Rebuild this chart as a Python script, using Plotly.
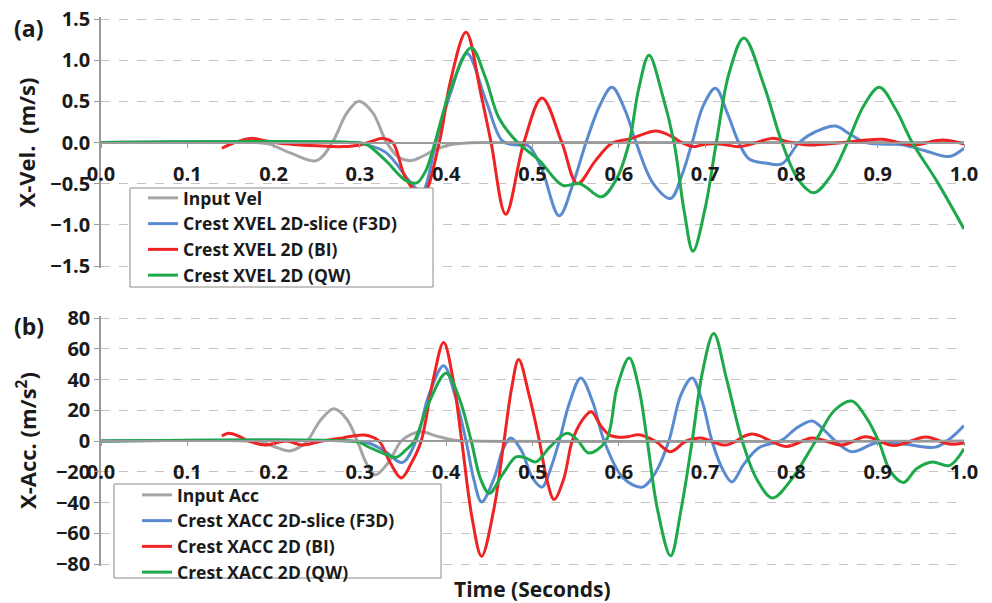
import plotly.graph_objects as go

# ---------------- data ----------------
# (a) velocity panel
t_vel_input = [0, 0.18, 0.195, 0.22, 0.25, 0.268, 0.285, 0.299, 0.315, 0.331, 0.345, 0.36, 0.372, 0.385, 0.4, 0.42, 0.45, 1.0]
vel_input = [0, 0, -0.02, -0.13, -0.22, 0, 0.36, 0.50, 0.36, 0, -0.18, -0.22, -0.17, -0.1, -0.04, -0.01, 0, 0]

t_vel_f3d = [0, 0.29, 0.305, 0.33, 0.36, 0.372, 0.388, 0.405, 0.424, 0.446, 0.465, 0.48, 0.495, 0.51, 0.531, 0.547, 0.562,
             0.578, 0.592, 0.607, 0.62, 0.64, 0.660, 0.673, 0.685, 0.698, 0.712, 0.726, 0.739, 0.751, 0.77, 0.789, 0.809,
             0.83, 0.851, 0.868, 0.886, 0.91, 0.93, 0.955, 0.983, 1.0]
vel_f3d = [0, 0, -0.02, -0.12, -0.5, -0.6, 0, 0.6, 1.08, 0.51, 0.02, -0.03, -0.04, -0.3, -0.89, -0.5, 0,
           0.45, 0.67, 0.4, 0, -0.5, -0.68, -0.4, 0, 0.45, 0.66, 0.35, 0, -0.2, -0.25, -0.26, 0,
           0.14, 0.2, 0.1, 0, -0.02, -0.03, -0.1, -0.17, -0.07]

t_vel_bi = [0.14, 0.155, 0.174, 0.19, 0.2, 0.22, 0.25, 0.28, 0.3, 0.315, 0.326, 0.338, 0.353, 0.372, 0.392, 0.405, 0.423,
            0.44, 0.452, 0.469, 0.49, 0.511, 0.534, 0.552, 0.573, 0.592, 0.615, 0.643, 0.66, 0.673, 0.687, 0.7, 0.72,
            0.739, 0.76, 0.777, 0.8, 0.82, 0.86, 0.905, 0.94, 0.975, 1.0]
vel_bi = [-0.07, 0.0, 0.05, 0.02, 0.0, -0.02, -0.04, -0.05, -0.03, 0.02, 0.05, 0.0, -0.43, -0.65, 0, 0.75, 1.34,
          0.6, 0, -0.87, 0, 0.54, 0, -0.50, -0.22, -0.01, 0.05, 0.14, 0.08, 0, -0.05, -0.02, -0.02,
          -0.05, 0.0, 0.05, 0.0, -0.03, 0.0, 0.04, -0.03, 0.03, -0.02]

t_vel_qw = [0, 0.295, 0.307, 0.33, 0.353, 0.366, 0.376, 0.387, 0.405, 0.429, 0.445, 0.461, 0.481, 0.508, 0.535, 0.555,
            0.58, 0.597, 0.612, 0.623, 0.635, 0.65, 0.664, 0.676, 0.686, 0.7, 0.713, 0.728, 0.745, 0.768, 0.789, 0.808,
            0.826, 0.846, 0.865, 0.884, 0.902, 0.921, 0.94, 0.968, 1.0]
vel_qw = [0, 0, -0.02, -0.22, -0.46, -0.49, -0.35, 0, 0.65, 1.15, 0.8, 0.3, 0.02, -0.22, -0.52, -0.5,
          -0.66, -0.45, 0, 0.65, 1.06, 0.6, 0, -0.85, -1.32, -0.8, 0, 0.85, 1.27, 0.7, 0, -0.45,
          -0.61, -0.4, 0, 0.45, 0.67, 0.4, 0, -0.46, -1.05]

# (b) acceleration panel
t_acc_input = [0, 0.17, 0.19, 0.205, 0.218, 0.23, 0.239, 0.255, 0.27, 0.285, 0.297, 0.308, 0.318, 0.333, 0.348, 0.36,
               0.372, 0.39, 0.41, 0.43, 1.0]
acc_input = [0, 0, -1.5, -4.5, -6.5, -4, 0, 14, 21, 14, 0, -15, -22, -14, 0, 4.5, 6, 3, 0.5, 0, 0]

t_acc_f3d = [0, 0.29, 0.31, 0.33, 0.349, 0.365, 0.38, 0.397, 0.41, 0.423, 0.432, 0.441, 0.455, 0.466, 0.475, 0.487,
             0.5, 0.511, 0.521, 0.531, 0.543, 0.556, 0.57, 0.583, 0.605, 0.627, 0.643, 0.658, 0.672, 0.685, 0.697,
             0.708, 0.72, 0.731, 0.745, 0.762, 0.789, 0.805, 0.824, 0.84, 0.852, 0.87, 0.898, 0.93, 0.967, 0.985, 1.0]
acc_f3d = [0, 0, -1.3, -7, -14, 0, 30, 49, 30, 0, -25, -39.6, -25, -5, 2, -6,
           -24, -30, -18, 0, 25, 41, 25, 0, -24, -30, -20, 0, 30, 41, 25,
           0, -18, -26.6, -15, -4.5, 0.6, 8, 13, 6, -0.6, -7, -1.3, -2, -4, 2, 10]

t_acc_bi = [0.14, 0.148, 0.16, 0.171, 0.19, 0.215, 0.233, 0.256, 0.28, 0.305, 0.322, 0.335, 0.348, 0.36, 0.371,
            0.385, 0.397, 0.408, 0.418, 0.43, 0.441, 0.455, 0.467, 0.476, 0.484, 0.496, 0.508, 0.517, 0.525, 0.536,
            0.546, 0.557, 0.568, 0.579, 0.589, 0.6, 0.612, 0.623, 0.642, 0.66, 0.678, 0.695, 0.724, 0.754, 0.794,
            0.824, 0.859, 0.886, 0.919, 0.956, 0.983, 1.0]
acc_bi = [3.2, 5, 3, 0, -2.6, 0, -2.6, 0, 2, 3.9, 0, -14, -24, -14, 0,
          40, 64, 40, 0, -50, -75, -45, 0, 35, 53, 30, 0, -26, -38, -25,
          0, 13, 19, 10, 4, 2.5, 3, 4, 0, -7, 0, 2, -2.6, 4.5, -3.5,
          2, -2.6, 2.7, -3, 2.6, -2, -1.3]

t_acc_qw = [0, 0.287, 0.3, 0.31, 0.325, 0.342, 0.353, 0.363, 0.38, 0.4, 0.415, 0.429, 0.44, 0.45, 0.465, 0.481,
            0.492, 0.504, 0.52, 0.54, 0.553, 0.565, 0.585, 0.598, 0.612, 0.623, 0.633, 0.645, 0.66, 0.672, 0.685,
            0.697, 0.71, 0.725, 0.743, 0.76, 0.778, 0.8, 0.828, 0.85, 0.87, 0.887, 0.901, 0.915, 0.93, 0.945,
            0.963, 0.983, 1.0]
acc_qw = [0, 0, -1, -3.9, -7.5, -10.6, -6, 0, 25, 44, 28, 0, -25, -34, -22, -10.4,
          -11, -13.6, -4, 5, 0, -7.8, 0, 35, 54, 35, 0, -45, -74.7, -45, 0,
          45, 70, 40, 0, -25, -37, -25, 0, 20, 26, 15, 0, -20, -27, -18,
          -13.6, -16, -5]

vel_ticks = [-1.5, -1.0, -0.5, 0.0, 0.5, 1.0, 1.5]
acc_ticks = [-80, -60, -40, -20, 0, 20, 40, 60, 80]
time_ticks = [0.0, 0.1, 0.2, 0.3, 0.4, 0.5, 0.6, 0.7, 0.8, 0.9, 1.0]

vel_names = ["Input Vel", "Crest XVEL 2D-slice (F3D)", "Crest XVEL 2D (BI)", "Crest XVEL 2D (QW)"]
acc_names = ["Input Acc", "Crest XACC 2D-slice (F3D)", "Crest XACC 2D (BI)", "Crest XACC 2D (QW)"]

# ---------------- styling ----------------
# The page body has an 8px margin, so the figure is drawn at (8, 8) in the window.
OFF = 8
W, H = 992 - OFF, 603 - OFF


def px(x):
    return (x - OFF) / W


def py(y):
    return 1 - (y - OFF) / H


FONT = "'Open Sans', Lato, sans-serif"
colors = ["#A5A5A5", "#5A8AD0", "#EE2323", "#1DA84A"]
widths = [3, 3, 3, 3]

# plot areas padded by 2px so the end gridlines are drawn
PAD = 2
x_dom = [px(101), px(964)]
y1_dom = [py(266 + PAD), py(19 - PAD)]
y2_dom = [py(564 + PAD), py(318 - PAD)]
k1 = 3.0 / (266 - 19)
k2 = 160.0 / (564 - 318)
y1_rng = [vel_ticks[0] - PAD * k1, vel_ticks[-1] + PAD * k1]
y2_rng = [acc_ticks[0] - PAD * k2, acc_ticks[-1] + PAD * k2]

fig = go.Figure()

vel_series = [(t_vel_input, vel_input), (t_vel_f3d, vel_f3d), (t_vel_bi, vel_bi), (t_vel_qw, vel_qw)]
acc_series = [(t_acc_input, acc_input), (t_acc_f3d, acc_f3d), (t_acc_bi, acc_bi), (t_acc_qw, acc_qw)]

for i, ((tx, vy), name) in enumerate(zip(vel_series, vel_names)):
    fig.add_trace(go.Scatter(x=tx, y=vy, name=name, mode="lines",
                             line=dict(color=colors[i], width=widths[i], shape="spline", smoothing=1.0),
                             xaxis="x", yaxis="y", legend="legend"))
for i, ((tx, vy), name) in enumerate(zip(acc_series, acc_names)):
    fig.add_trace(go.Scatter(x=tx, y=vy, name=name, mode="lines",
                             line=dict(color=colors[i], width=widths[i], shape="spline", smoothing=1.0),
                             xaxis="x2", yaxis="y2", legend="legend2"))

tick_font = dict(family=FONT, size=20, color="#1a1a1a", weight="bold")

xcommon = dict(range=[0, 1], tickvals=time_ticks, tickformat=".1f", showgrid=False, zeroline=False,
               showline=True, linecolor="#9a9a9a", linewidth=2, ticks="outside", ticklen=4,
               tickcolor="#9a9a9a", tickfont=tick_font, ticklabelstandoff=9, anchor="free",
               automargin=False, ticklabeloverflow="allow")
ycommon = dict(showgrid=True, gridcolor="#c4c4c4", griddash="dash", gridwidth=1, zeroline=False,
               showline=True, linecolor="#9a9a9a", linewidth=1.5, ticks="outside", ticklen=5,
               tickcolor="#9a9a9a", tickfont=tick_font, automargin=False, ticklabeloverflow="allow")

legend_common = dict(bgcolor="rgba(0,0,0,0)", borderwidth=0,
                     font=dict(family=FONT, size=17.5, color="#1a1a1a", weight="bold"),
                     xanchor="left", yanchor="top", tracegroupgap=0, itemwidth=30)

fig.update_layout(
    width=W, height=H, autosize=False,
    margin=dict(l=0, r=0, t=0, b=0, autoexpand=False),
    paper_bgcolor="white", plot_bgcolor="white",
    xaxis=dict(domain=x_dom, position=(y1_dom[0] + y1_dom[1]) / 2, **xcommon),
    xaxis2=dict(domain=x_dom, position=(y2_dom[0] + y2_dom[1]) / 2, **xcommon),
    yaxis=dict(domain=y1_dom, range=y1_rng, tickvals=vel_ticks, tickformat=".1f", anchor="x", **ycommon),
    yaxis2=dict(domain=y2_dom, range=y2_rng, tickvals=acc_ticks, tickformat="d", anchor="x2", **ycommon),
    legend=dict(x=px(143), y=py(180), **legend_common),
    legend2=dict(x=px(137), y=py(477), **legend_common),
    showlegend=True,
)

# legend frames (white boxes that hide the curves behind the legends)
for (x0, y0, x1, y1) in [(130, 188, 433, 287), (114, 484, 441, 578)]:
    fig.add_shape(type="rect", xref="paper", yref="paper", x0=px(x0), x1=px(x1), y0=py(y1), y1=py(y0),
                  fillcolor="white", line=dict(color="#8a8a8a", width=1), layer="above")

title_font = dict(family=FONT, size=22, color="#1a1a1a", weight="bold")
fig.add_annotation(text="X-Vel.  (m/s)", xref="paper", yref="paper", x=px(26), y=(y1_dom[0] + y1_dom[1]) / 2,
                   textangle=-90, showarrow=False, font=title_font, xanchor="center", yanchor="middle")
fig.add_annotation(text="X-Acc. (m/s<sup>2</sup>)", xref="paper", yref="paper", x=px(26),
                   y=(y2_dom[0] + y2_dom[1]) / 2,
                   textangle=-90, showarrow=False, font=title_font, xanchor="center", yanchor="middle")
fig.add_annotation(text="(a)", xref="paper", yref="paper", x=px(28), y=py(28), showarrow=False,
                   font=dict(family=FONT, size=23, color="#1a1a1a", weight="bold"), xanchor="center", yanchor="middle")
fig.add_annotation(text="(b)", xref="paper", yref="paper", x=px(29), y=py(326), showarrow=False,
                   font=dict(family=FONT, size=23, color="#1a1a1a", weight="bold"), xanchor="center", yanchor="middle")
fig.add_annotation(text="Time (Seconds)", xref="paper", yref="paper", x=px(532), y=py(589), showarrow=False,
                   font=dict(family=FONT, size=21, color="#1a1a1a", weight="bold"), xanchor="center", yanchor="middle")

fig.write_html("out.html")
